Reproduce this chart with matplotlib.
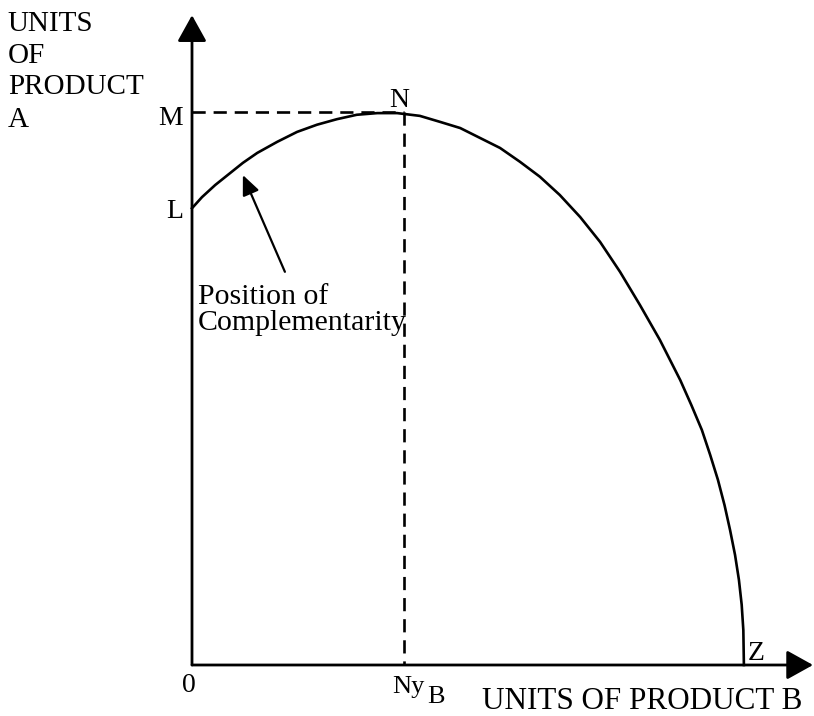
import matplotlib
matplotlib.use("Agg")
import matplotlib.pyplot as plt

# production possibility curve (origin = 0, M = 100)
curve_b = [0, 1.8, 4.2, 6.7, 9.2, 11.8, 15.4, 19.0, 22.6, 26.2,
           29.8, 33.5, 37.1, 41.2, 44.9, 48.5, 52.1, 55.7, 59.3, 62.9,
           66.5, 70.2, 73.8, 77.4, 81.0, 84.6, 88.3, 90.3, 92.2,
           93.7, 95.1, 96.3, 97.3, 98.2, 98.9, 99.4, 99.7, 99.8]
curve_a = [82.6, 84.6, 86.8, 88.8, 90.8, 92.6, 94.6, 96.4, 97.7, 98.7,
           99.5, 99.8, 99.8, 99.3, 98.2, 97.1, 95.3, 93.5, 91.0, 88.3,
           85.0, 81.0, 76.5, 71.1, 65.1, 58.8, 51.5, 47.0, 42.5,
           38.0, 33.5, 28.9, 24.4, 19.9, 15.4, 10.9, 6.3, 0]

level_m = 100.0     # M on the A axis
point_n = 38.3      # N y_B on the B axis

y_title = ["UNITS", "OF", "PRODUCT", "A"]
x_title = "UNITS OF PRODUCT B"
note = ["Position of", "Complementarity"]

FONT = "Liberation Serif"


def main():
    fig = plt.figure(figsize=(8.14, 7.16), dpi=100)
    ax = fig.add_axes([0, 0, 1, 1])
    # 100 units = 553 px, origin at pixel (192, 665)
    ax.set_xlim(-192 / 5.53, (814 - 192) / 5.53)
    ax.set_ylim(-(716 - 665) / 5.53, 665 / 5.53)
    ax.set_axis_off()

    # axes with filled arrow heads
    head = "-|>,head_length=0.9,head_width=0.5"
    ax.annotate("", xy=(0, 117.5), xytext=(0, 0),
                arrowprops=dict(arrowstyle=head, mutation_scale=18, lw=2.0,
                                color="black", shrinkA=0, shrinkB=0))
    ax.annotate("", xy=(112.3, 0), xytext=(0, 0),
                arrowprops=dict(arrowstyle=head, mutation_scale=18, lw=2.0,
                                color="black", shrinkA=0, shrinkB=0))

    # curve
    ax.plot(curve_b, curve_a, color="black", lw=1.9, solid_joinstyle="round")

    # dashed guides M-N and N-Ny_B
    ax.plot([0, point_n], [level_m, level_m], color="black", lw=1.9,
            dashes=(5, 3))
    ax.plot([point_n, point_n], [level_m, 0], color="black", lw=1.9,
            dashes=(5, 3))

    # arrow pointing to the concave part
    ax.annotate("", xy=(9.2, 88.6), xytext=(16.8, 71.1),
                arrowprops=dict(arrowstyle="-|>,head_length=0.8,head_width=0.35",
                                mutation_scale=15, lw=1.6, color="black",
                                shrinkA=0, shrinkB=0))

    fs = 20
    # y axis title
    for line, base in zip(y_title, [114.65, 108.86, 103.25, 97.29]):
        ax.text(-33.3, base, line, fontsize=21, family=FONT, va="baseline")
    ax.text(52.4, -7.9, x_title, fontsize=22.4, family=FONT, va="baseline")

    ax.text(-1.6, 97.65, "M", fontsize=fs, family=FONT, ha="right", va="baseline")
    ax.text(-1.6, 80.83, "L", fontsize=fs, family=FONT, ha="right", va="baseline")
    ax.text(37.4, 100.9, "N", fontsize=fs, family=FONT, ha="center", va="baseline")
    ax.text(-0.5, -4.9, "0", fontsize=fs, family=FONT, ha="center", va="baseline")
    ax.text(36.2, -5.0, "Ny", fontsize=19, family=FONT, va="baseline")
    ax.text(42.6, -6.9, "B", fontsize=19, family=FONT, va="baseline")
    ax.text(100.5, 0.9, "Z", fontsize=fs, family=FONT, va="baseline")

    ax.text(1.1, 65.3, note[0], fontsize=21.5, family=FONT, va="baseline")
    ax.text(1.1, 60.5, note[1], fontsize=21.5, family=FONT, va="baseline")

    fig.savefig("out.png", dpi=100, facecolor="white")


if __name__ == "__main__":
    main()
